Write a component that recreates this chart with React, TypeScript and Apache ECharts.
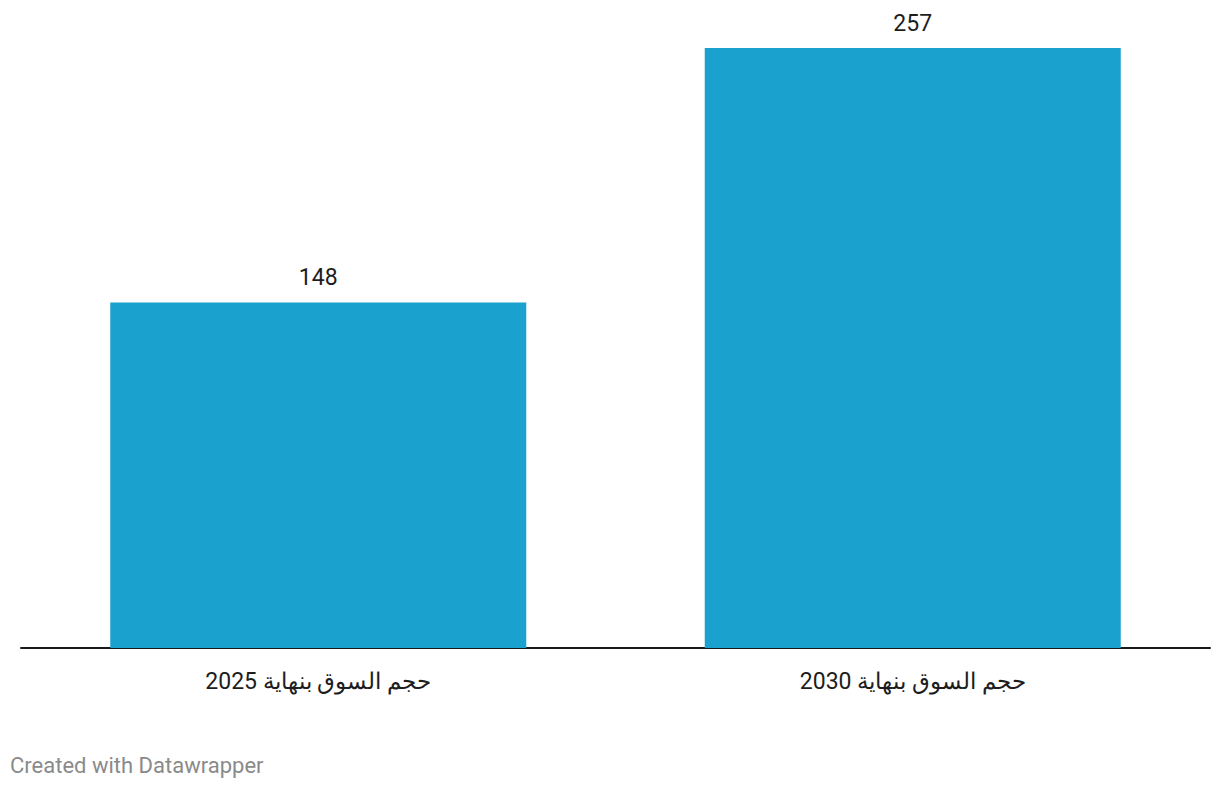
import React, { useEffect, useRef } from "react";
import * as echarts from "echarts";

const categories = ["حجم السوق بنهاية 2025", "حجم السوق بنهاية 2030"];
const values = [148, 257];
const footer = "Created with Datawrapper";

export default function App() {
  const ref = useRef<HTMLDivElement>(null);
  useEffect(() => {
    if (!ref.current) return;
    const chart = echarts.init(ref.current, null, { renderer: "svg" });
    chart.setOption({
      animation: false,
      backgroundColor: "#ffffff",
      grid: { left: 21, right: 10, top: 48, bottom: 142, containLabel: false },
      xAxis: {
        type: "category",
        data: categories,
        axisLine: { show: true, lineStyle: { color: "#1a1a1a", width: 2 } },
        axisTick: { show: false },
        axisLabel: {
          color: "#1d1d1d",
          fontFamily: "Roboto",
          fontSize: 23,
          margin: 22,
        },
      },
      yAxis: {
        type: "value",
        min: 0,
        max: 257,
        show: false,
        splitLine: { show: false },
      },
      series: [
        {
          type: "bar",
          data: values,
          barWidth: 416,
          itemStyle: { color: "#1aa1ce" },
          label: {
            show: true,
            position: "top",
            distance: 13,
            color: "#1d1d1d",
            fontFamily: "Roboto",
            fontSize: 23,
          },
        },
      ],
      graphic: [
        {
          type: "text",
          left: 10,
          top: 754,
          style: {
            text: footer,
            fill: "#8a8a8a",
            font: "22px Roboto",
          },
        },
      ],
    });
    return () => chart.dispose();
  }, []);
  return (
    <div
      ref={ref}
      style={{ position: "fixed", left: 0, top: 0, width: 1220, height: 790 }}
    />
  );
}
